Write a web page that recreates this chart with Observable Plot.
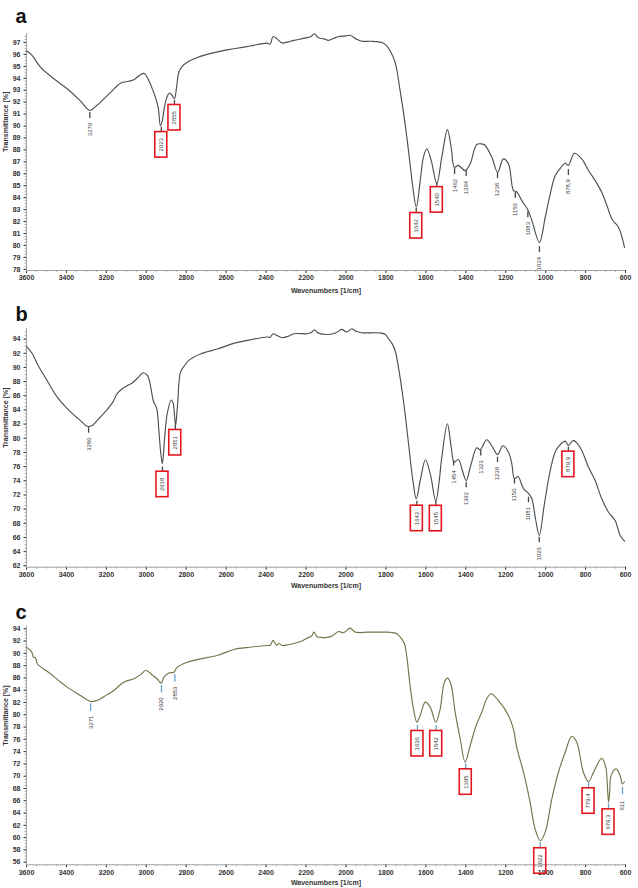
<!DOCTYPE html>
<html><head><meta charset="utf-8">
<script src="https://cdn.jsdelivr.net/npm/d3@7"></script>
<script src="https://cdn.jsdelivr.net/npm/@observablehq/plot@0.6"></script>
<style>
body{margin:0;background:#fff;}
#wrap{width:638px;height:888px;overflow:hidden;}
#wrap svg{display:block;}
</style></head><body><div id="wrap"></div>
<script>
// ---------- shared axis ticks ----------
const xTicks = d3.range(3600, 599, -200);
const xMinor = d3.range(3600, 599, -50);

// ---------- panel a ----------
const aWavenumber = [3600,3571,3530,3463,3396,3330,3283,3250,3229,3180,3129,3088,3060,3030,3010,2987,2965,2954,2940,2929,2918,2909,2897,2885,2872,2859,2848,2837,2820,2795,2750,2695,2620,2562,2480,2395,2380,2365,2345,2320,2290,2261,2194,2175,2158,2138,2110,2088,2060,2037,2000,1979,1950,1921,1871,1821,1800,1779,1754,1729,1704,1683,1665,1648,1628,1612,1595,1573,1545,1520,1492,1473,1457,1437,1403,1378,1345,1320,1303,1270,1240,1212,1186,1161,1145,1119,1089,1069,1031,1002,977,952,925,902,886,856,819,785,752,719,693,668,635,605];
const aTransmittance = [96.3,95.9,94.93,93.96,93.12,92.1,91.3,91.7,92.0,92.8,93.59,93.75,93.9,94.3,94.4,93.8,92.9,92.4,91.5,90.0,90.6,91.6,92.4,92.75,92.6,92.28,93.3,94.5,95.0,95.35,95.7,96.0,96.3,96.47,96.7,96.94,96.85,97.5,97.3,96.95,97.05,97.17,97.4,97.5,97.73,97.4,97.3,97.17,97.35,97.5,97.55,97.6,97.3,97.1,97.1,97.0,96.8,96.3,95.35,92.98,90.2,87.4,84.87,83.2,85.43,87.4,88.1,87.1,85.2,87.4,89.7,88.2,86.55,86.7,86.27,86.83,88.45,88.5,88.37,87.4,86.13,87.25,86.83,84.6,84.5,83.75,82.97,82.1,80.26,82.36,84.3,85.85,86.5,86.88,86.7,87.72,87.25,86.27,85.43,84.45,83.34,82.22,81.52,79.84];
const aPeakWn = [3283,2925,2859,1648,1545,1456,1398,1241,1152,1089,1031,886];
const aPeakLabel = ["3279","2923","2855","1642","1540","1462","1394","1238","1150","1083","1024","878,9"];
const aPeakTop = [91.13,89.87,92.14,83.09,85.26,86.44,86.27,86.1,84.43,82.83,79.9,86.35];
const aPeakBoxed = [false,true,true,true,true,false,false,false,false,false,false,false];
const aYTicks = d3.range(78, 97.5, 1);
const aYMinor = d3.range(78, 97.75, 0.25);

// ---------- panel b ----------
const bWavenumber = [3600,3570,3546,3500,3446,3396,3330,3293,3271,3240,3204,3170,3146,3120,3099,3071,3040,3016,2995,2987,2975,2965,2948,2937,2928,2920,2914,2909,2895,2875,2865,2858,2853,2847,2842,2829,2810,2787,2729,2645,2562,2480,2395,2380,2365,2345,2320,2290,2261,2194,2175,2158,2138,2088,2050,2021,1996,1971,1950,1921,1821,1800,1787,1770,1754,1729,1704,1683,1665,1648,1628,1602,1578,1550,1535,1520,1492,1473,1458,1437,1417,1398,1373,1345,1328,1295,1270,1241,1214,1186,1170,1156,1139,1110,1085,1069,1050,1032,1006,977,949,920,902,886,861,840,819,785,752,719,685,652,627,605];
const bTransmittance = [92.97,91.9,90.5,88.3,85.8,84.2,82.5,81.67,81.8,82.7,83.8,85.0,86.3,87.0,87.36,87.8,88.6,89.25,88.9,88.4,86.8,85.3,84.2,81.1,78.0,76.4,77.8,79.7,83.5,85.4,84.9,83.0,81.8,83.5,85.3,89.3,90.2,91.0,91.9,92.6,93.4,93.9,94.3,94.25,94.76,94.5,94.2,94.4,94.76,94.76,94.9,95.3,94.85,94.66,94.9,95.37,95.0,95.47,95.1,94.9,94.85,94.6,94.05,93.4,92.4,88.6,83.5,78.3,74.04,71.46,74.04,76.97,75.0,71.1,73.5,77.33,82.05,78.75,76.63,77.0,75.45,74.04,76.4,78.66,78.38,79.8,78.95,77.7,78.95,78.04,76.5,74.3,74.6,72.87,72.2,71.46,68.5,66.3,70.75,75.45,78.28,79.3,79.6,79.0,79.7,79.2,78.28,75.9,74.04,71.46,69.56,68.4,66.3,65.47];
const bPeakWn = [3289,2919,2855,1645,1550,1461,1398,1325,1241,1156,1086,1032,886];
const bPeakLabel = ["3286","2918","2851","1642","1545","1454","1392","1323","1238","1150","1081","1026","879,9"];
const bPeakTop = [81.49,75.92,81.81,71.12,71.1,76.87,73.8,78.28,77.33,74.33,71.68,66.03,78.75];
const bPeakBoxed = [false,true,true,true,true,false,false,false,false,false,false,false,true];
const bYTicks = d3.range(62, 95, 2);
const bYMinor = d3.range(62, 95.5, 0.5);

// ---------- panel c ----------
const cWavenumber = [3600,3580,3570,3566,3555,3546,3520,3480,3440,3396,3330,3300,3279,3250,3229,3200,3163,3113,3063,3030,3004,2985,2971,2946,2926,2912,2887,2862,2845,2795,2729,2645,2562,2480,2395,2380,2365,2348,2335,2320,2290,2261,2220,2194,2178,2170,2161,2144,2128,2105,2071,2037,2012,1979,1954,1888,1804,1770,1745,1721,1707,1695,1679,1662,1645,1628,1603,1578,1550,1528,1507,1490,1473,1453,1428,1403,1378,1345,1320,1295,1273,1237,1186,1160,1145,1111,1078,1053,1027,1002,969,936,902,869,844,811,785,760,719,699,690,685,679,672,647,627,616,605];
const cTransmittance = [91.0,90.47,89.9,89.4,89.3,88.3,87.6,86.67,85.6,84.5,83.14,82.5,82.16,82.3,82.6,83.2,83.95,85.3,85.86,86.5,87.2,86.9,86.5,85.86,85.14,86.1,86.8,86.93,87.75,88.56,89.1,89.65,90.63,91.0,91.28,91.3,92.1,91.3,91.6,91.28,91.4,91.6,92.0,92.5,92.7,92.9,93.45,92.7,92.6,92.56,92.8,93.56,93.35,94.1,93.45,93.45,93.45,93.4,93.2,92.37,91.56,89.38,84.77,80.97,78.8,79.9,82.05,81.24,78.8,80.97,85.3,85.96,84.77,80.4,76.1,72.28,75.0,78.53,80.4,82.6,83.42,82.33,79.9,77.5,74.73,70.65,65.8,61.44,59.5,60.9,66.3,70.65,73.9,76.5,75.53,70.65,69.1,70.65,72.9,71.47,68.0,65.77,67.5,70.1,71.2,70.1,68.76,69.1];
const cPeakWn = [3279,2924,2857,1642,1548,1400,1027,785,685,615];
const cPeakLabel = ["3271","2920","2853","1636","1542","1395","1022","779,4","679,3","611"];
const cPeakTop = [81.79,84.77,86.51,78.26,78.26,72.02,59.17,68.93,65.5,68.21];
const cPeakBoxed = [false,false,false,true,true,true,true,true,true,false];
const cYTicks = d3.range(56, 95, 2);
const cYMinor = d3.range(56, 94.5, 0.5);

const FONT = "'Liberation Sans', Arial, Helvetica, sans-serif";

function makePanel(p) {
  const ml = 26, mr = 13;
  const [y0, y1] = p.yDomain;
  const ppu = (p.height - p.mt - p.mb) / (y1 - y0);
  const ppx = (638 - ml - mr) / 3000;
  const spectrum = p.wn.map((w, i) => ({w, t: p.tr[i]}));
  const peaks = p.peakWn.map((w, i) => ({w, top: p.peakTop[i], label: p.peakLabel[i], boxed: p.peakBoxed[i]}));
  const len = d => (d.boxed ? p.boxMark : p.mark) / ppu;
  const end = d => d.top - len(d);
  const boxed = peaks.filter(d => d.boxed);
  return Plot.plot({
    width: 638, height: p.height,
    marginLeft: ml, marginRight: mr, marginTop: p.mt, marginBottom: p.mb,
    style: {fontFamily: FONT, background: "#fff", overflow: "visible"},
    x: {domain: [3600, 600]},
    y: {domain: p.yDomain},
    marks: [
      Plot.axisX({ticks: xMinor, tickSize: 2, tickFormat: () => "", label: null, color: "#b0b0b0"}),
      Plot.axisX({ticks: xTicks, tickSize: 3, tickPadding: 2, tickFormat: d => String(d), label: null,
                  color: "#333", fontSize: 7, fontWeight: "bold"}),
      Plot.axisY({ticks: p.yMinor, tickSize: 1.5, tickFormat: () => "", label: null, color: "#b0b0b0"}),
      Plot.axisY({ticks: p.yTicks, tickSize: 2.5, tickPadding: 3.5, tickFormat: d => String(d), label: null,
                  color: "#333", fontSize: 7, fontWeight: "bold"}),
      Plot.ruleX([3600], {stroke: "#a0a0a0"}),
      Plot.ruleY([y0], {stroke: "#a0a0a0"}),
      Plot.line(spectrum, {x: "w", y: "t", stroke: p.lineColor, strokeWidth: 1.15, curve: "catmull-rom"}),
      Plot.ruleX(peaks, {x: "w", y1: "top", y2: end, stroke: p.markColor, strokeWidth: 1.3}),
      Plot.rect(boxed, {x1: d => d.w + 6 / ppx, x2: d => d.w - 6 / ppx, y1: end, y2: d => end(d) - 25.5 / ppu,
                        fill: "none", stroke: "#e3171f", strokeWidth: 1.6}),
      Plot.text(peaks, {x: "w", y: d => end(d) - (d.boxed ? 12.75 : 11) / ppu, text: "label", rotate: -90,
                        fontSize: 6, fill: p.textColor, textAnchor: "middle", lineAnchor: "middle"}),
      Plot.text([p.letter], {frameAnchor: "top-left", dx: -11, dy: p.letterDy, text: d => d, fontSize: 20,
                             fontWeight: "bold", textAnchor: "start", lineAnchor: "bottom", fill: "#111"}),
      Plot.text(["Wavenumbers [1/cm]"], {frameAnchor: "bottom", dy: p.xLabelDy, text: d => d, fontSize: 7,
                                         fontWeight: "bold", fill: "#333", lineAnchor: "middle"}),
      Plot.text(["Transmittance [%]"], {frameAnchor: "left", dx: -21, rotate: -90, text: d => d, fontSize: 7,
                                        fontWeight: "bold", fill: "#333", lineAnchor: "middle"})
    ]
  });
}

const wrap = document.getElementById("wrap");
wrap.appendChild(makePanel({
  letter: "a", wn: aWavenumber, tr: aTransmittance, yDomain: [77.9, 97.75], yTicks: aYTicks, yMinor: aYMinor,
  height: 296, mt: 33, mb: 26, lineColor: "#4f4f4f", markColor: "#444", textColor: "#444",
  peakWn: aPeakWn, peakLabel: aPeakLabel, peakTop: aPeakTop, peakBoxed: aPeakBoxed,
  mark: 6, boxMark: 4.5, letterDy: -11, xLabelDy: 20
}));
wrap.appendChild(makePanel({
  letter: "b", wn: bWavenumber, tr: bTransmittance, yDomain: [61.8, 95.5], yTicks: bYTicks, yMinor: bYMinor,
  height: 294, mt: 32, mb: 23.3, lineColor: "#4f4f4f", markColor: "#444", textColor: "#444",
  peakWn: bPeakWn, peakLabel: bPeakLabel, peakTop: bPeakTop, peakBoxed: bPeakBoxed,
  mark: 5.5, boxMark: 4.5, letterDy: -8, xLabelDy: 18.5
}));
wrap.appendChild(makePanel({
  letter: "c", wn: cWavenumber, tr: cTransmittance, yDomain: [55.58, 94.37], yTicks: cYTicks, yMinor: cYMinor,
  height: 298, mt: 36, mb: 23.7, lineColor: "#75744c", markColor: "#6d9fd0", textColor: "#3a3a3a",
  peakWn: cPeakWn, peakLabel: cPeakLabel, peakTop: cPeakTop, peakBoxed: cPeakBoxed,
  mark: 7.5, boxMark: 5.5, letterDy: -8, xLabelDy: 18
}));
</script>
</body></html>
